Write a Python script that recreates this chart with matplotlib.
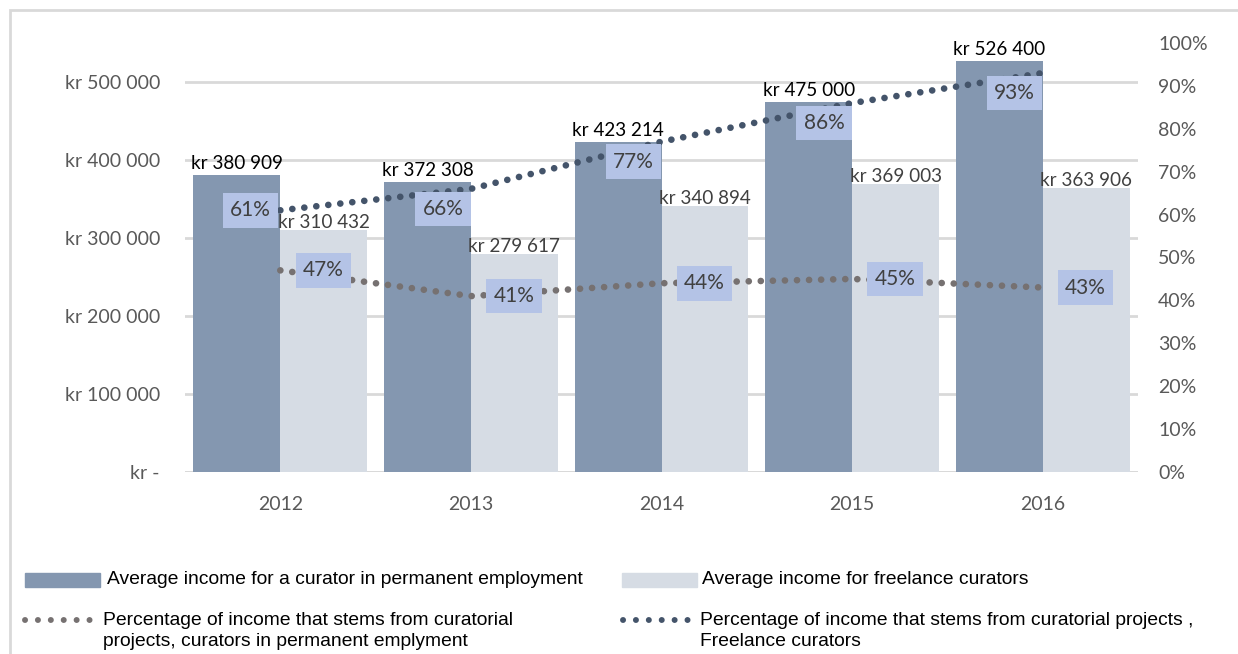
import matplotlib.pyplot as plt
from matplotlib.lines import Line2D
from matplotlib.patches import Rectangle
import numpy as np

years = ["2012", "2013", "2014", "2015", "2016"]
income_permanent = [380909, 372308, 423214, 475000, 526400]
income_freelance = [310432, 279617, 340894, 369003, 363906]
share_permanent = [0.47, 0.41, 0.44, 0.45, 0.43]
share_freelance = [0.61, 0.66, 0.77, 0.86, 0.93]

left_ticks = [0, 100000, 200000, 300000, 400000, 500000]
right_ticks = [i / 10 for i in range(11)]

legend_labels = [
    "Average income for a curator in permanent employment",
    "Average income for freelance curators",
    "Percentage of income that stems from curatorial\nprojects, curators in permanent emplyment",
    "Percentage of income that stems from curatorial projects ,\nFreelance curators",
]

DARK_BAR = "#8497b0"
LIGHT_BAR = "#d6dce4"
DARK_LINE = "#44546a"
GREY_LINE = "#767171"
LABEL_BOX = "#b4c3e6"
GRID = "#d9d9d9"
TICK = "#595959"

W, H = 1238, 654
fig = plt.figure(figsize=(W / 100, H / 100), dpi=100)


def fx(x):
    return x / W


def fy(y):
    return 1 - y / H


def kr(v):
    return "kr " + f"{v:,}".replace(",", " ")


# outer frame
fig.add_artist(Rectangle((fx(10), fy(700)), fx(1240), fy(10) - fy(700),
                         transform=fig.transFigure, fill=False,
                         edgecolor=GRID, linewidth=2))

ax = fig.add_axes([fx(185), fy(472), fx(1138) - fx(185), fy(43) - fy(472)])
x = np.arange(len(years))
bw = 0.456

b1 = ax.bar(x - bw / 2, income_permanent, bw, color=DARK_BAR, zorder=2)
b2 = ax.bar(x + bw / 2, income_freelance, bw, color=LIGHT_BAR, zorder=2)

ax.set_xlim(-0.5, len(years) - 0.5)
ax.set_ylim(0, 550000)
ax.set_yticks(left_ticks)
ax.set_yticklabels(["kr -"] + [kr(v) for v in left_ticks[1:]])
ax.set_xticks(x)
ax.set_xticklabels(years)
ax.grid(axis="y", color=GRID, linewidth=2, zorder=0)
ax.set_axisbelow(True)
for s in ax.spines.values():
    s.set_visible(False)
ax.axhline(0, color=GRID, linewidth=2, zorder=1)
ax.tick_params(axis="both", length=0, labelsize=14, labelcolor=TICK,
               labelfontfamily="Lato")
ax.tick_params(axis="y", pad=18)
ax.tick_params(axis="x", pad=17)

for rect, v in zip(b1, income_permanent):
    ax.annotate(kr(v), (rect.get_x() + rect.get_width() / 2, v),
                xytext=(0, 3), textcoords="offset pixels", ha="center",
                va="bottom", fontsize=13.6, color="black", family="Lato")
for rect, v in zip(b2, income_freelance):
    ax.annotate(kr(v), (rect.get_x() + rect.get_width() / 2, v),
                xytext=(0, -1), textcoords="offset pixels", ha="center",
                va="bottom", fontsize=13.6, color="#404040", family="Lato")

ax2 = ax.twinx()
ax2.set_ylim(0, 1)
ax2.set_yticks(right_ticks)
ax2.set_yticklabels([f"{int(round(t * 100))}%" for t in right_ticks])
for s in ax2.spines.values():
    s.set_visible(False)
ax2.tick_params(axis="y", length=0, pad=14.5, labelsize=14, labelcolor=TICK,
                labelfontfamily="Lato")

dot_style = dict(linewidth=4.8, dash_capstyle="round", dashes=(0.01, 1.8))
ax2.plot(x, share_permanent, color=GREY_LINE, zorder=3, **dot_style)
ax2.plot(x, share_freelance, color=DARK_LINE, zorder=3, **dot_style)

box = dict(boxstyle="square,pad=0.35", facecolor=LABEL_BOX, edgecolor="none")
for i, v in enumerate(share_freelance):
    off = (-30, 0) if i == 0 else (-28, -20)
    ax2.annotate(f"{int(round(v * 100))}%", (x[i], v), xytext=off,
                 textcoords="offset pixels", ha="center", va="center",
                 fontsize=15, color="#404040", family="Lato", bbox=box,
                 zorder=4)
for i, v in enumerate(share_permanent):
    ax2.annotate(f"{int(round(v * 100))}%", (x[i], v), xytext=(43, 0),
                 textcoords="offset pixels", ha="center", va="center",
                 fontsize=15, color="#404040", family="Lato", bbox=box,
                 zorder=4)

# legend drawn below the plot
leg_font = dict(fontsize=13.9, family="Liberation Sans", color="black",
                va="center", ha="left", linespacing=1.3)
fig.add_artist(Rectangle((fx(25), fy(587)), fx(75), fy(573) - fy(587),
                         transform=fig.transFigure, color=DARK_BAR))
fig.text(fx(107), fy(580), legend_labels[0], **leg_font)
fig.add_artist(Rectangle((fx(622), fy(587)), fx(75), fy(573) - fy(587),
                         transform=fig.transFigure, color=LIGHT_BAR))
fig.text(fx(702), fy(580), legend_labels[1], **leg_font)

leg_dots = dict(linewidth=4.3, dash_capstyle="round", dashes=(0.01, 2.15))
fig.add_artist(Line2D([fx(25), fx(92)], [fy(620), fy(620)],
                      transform=fig.transFigure, color=GREY_LINE, **leg_dots))
fig.text(fx(103), fy(631), legend_labels[2], **leg_font)
fig.add_artist(Line2D([fx(623), fx(690)], [fy(620), fy(620)],
                      transform=fig.transFigure, color=DARK_LINE, **leg_dots))
fig.text(fx(700), fy(631), legend_labels[3], **leg_font)

fig.savefig("out.png", dpi=100)
